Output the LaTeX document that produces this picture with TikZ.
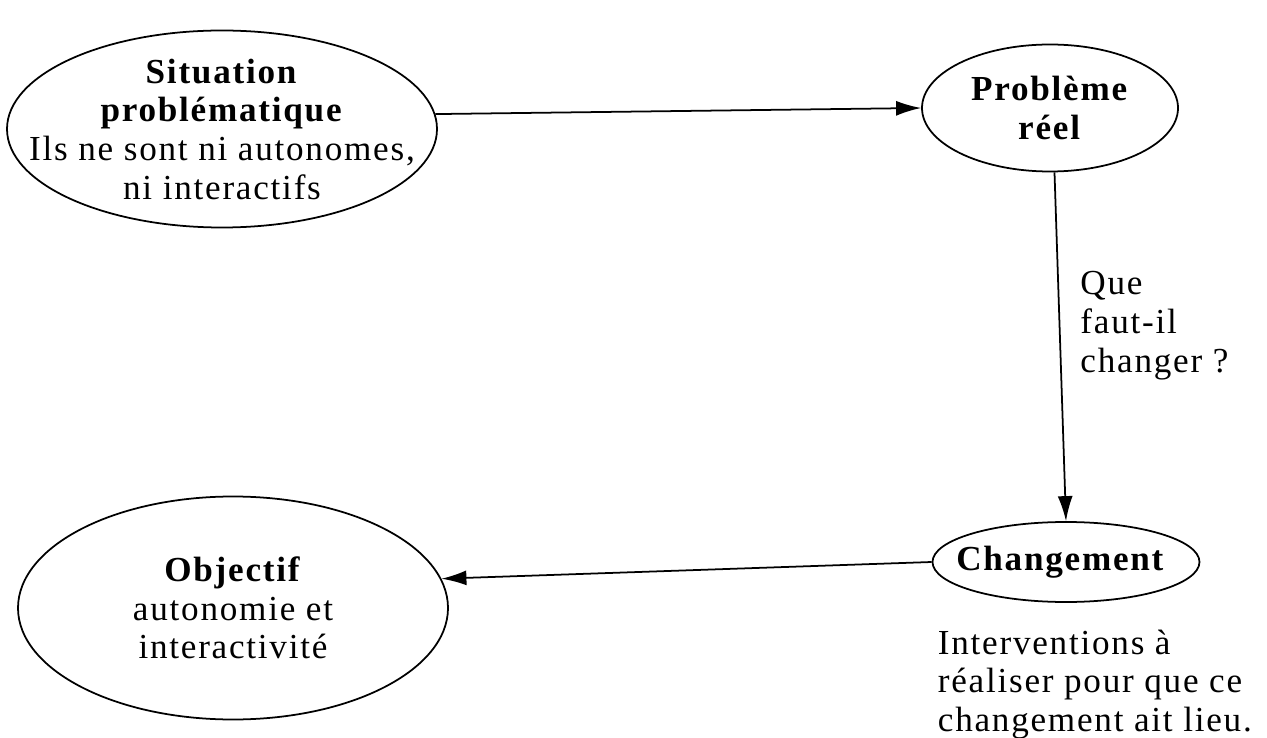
\documentclass[tikz,border=0pt]{standalone}
\usepackage{fontspec}
\setmainfont{Liberation Serif}[LetterSpace=5]
\usetikzlibrary{positioning, arrows.meta, shapes.geometric}

\begin{document}
\begin{tikzpicture}[>={Latex[length=5mm,width=3mm]}, line width=1pt,
    bulle/.style={draw, ellipse, inner xsep=-1cm, inner ysep=-0.4cm,
        align=center, font=\fontsize{20}{22}\selectfont},
    texte/.style={inner sep=0pt, align=left,
        font=\fontsize{20}{22}\selectfont}]
    \useasboundingbox (0,0) rectangle (25.34,-14.76);

    \node [bulle,
        minimum width=8.6cm,
        minimum height=3.94cm
    ] (situation) at (4.44,-2.58) {
        \textbf{Situation}\\
        \textbf{problématique}\\
        Ils ne sont ni autonomes,\\
        ni interactifs
    };

    \node [bulle,
        minimum width=5.12cm,
        minimum height=2.54cm
    ] (probleme) at (21.0,-2.16) {
        \textbf{Problème}\\
        \textbf{réel}
    };

    \node [bulle,
        minimum width=5.34cm,
        minimum height=1.6cm
    ] (changement) at (21.32,-11.24) {
        \textbf{Changement}
    };

    \node [bulle,
        minimum width=8.6cm,
        minimum height=4.46cm
    ] (objectif) at (4.66,-12.16) {
        \textbf{Objectif}\\
        autonomie et\\
        interactivité
    };

    \node [texte,
        anchor=north west
    ] (interventions) at (18.74,-12.58) {
        Interventions à\\
        réaliser pour que ce\\
        changement ait lieu.
    };

    % les fleches %
    \draw[->] (situation.4) -- (probleme.west);
    \draw[->] (probleme.-86) -- (changement.north)
        node [texte, pos=0.44, right=0.4] (question) {
            Que\\
            faut-il\\
            changer ?
        };
    \draw[->] (changement.west) -- (objectif.8);
\end{tikzpicture}
\end{document}
